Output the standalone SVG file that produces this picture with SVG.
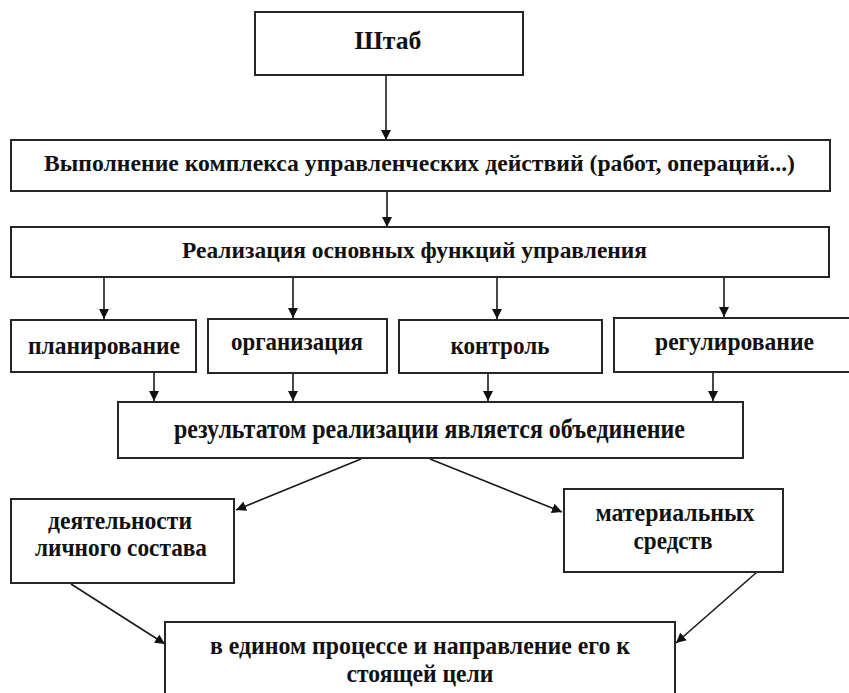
<svg xmlns="http://www.w3.org/2000/svg" width="849" height="693" viewBox="0 0 849 693">
<style>
.box{fill:#fff;stroke:#262626;stroke-width:2}
.t{font-family:"Liberation Serif","Times New Roman","DejaVu Serif",serif;font-weight:bold;fill:#111;text-anchor:middle}
.c{stroke:#1a1a1a;stroke-width:1.6;fill:none;marker-end:url(#ah)}
</style>
<defs>
<marker id="ah" viewBox="0 0 10 10" refX="10" refY="5" markerWidth="10" markerHeight="11" markerUnits="userSpaceOnUse" orient="auto">
<path d="M0,0 L10,5 L0,10 z" fill="#111"/>
</marker>
</defs>
<rect width="849" height="693" fill="#fff"/>
<g id="connectors">
<line class="c" x1="386" y1="75" x2="386" y2="140"/>
<line class="c" x1="387" y1="191" x2="387" y2="227"/>
<line class="c" x1="104" y1="277" x2="104" y2="319"/>
<line class="c" x1="293" y1="277" x2="293" y2="318"/>
<line class="c" x1="497" y1="277" x2="497" y2="319"/>
<line class="c" x1="724" y1="277" x2="724" y2="317"/>
<line class="c" x1="154" y1="372" x2="154" y2="401"/>
<line class="c" x1="293" y1="373" x2="293" y2="401"/>
<line class="c" x1="488" y1="373" x2="488" y2="401"/>
<line class="c" x1="713" y1="372" x2="713" y2="401"/>
<line class="c" x1="361" y1="459" x2="236" y2="510"/>
<line class="c" x1="430" y1="459" x2="562" y2="512"/>
<line class="c" x1="71" y1="584" x2="165" y2="644"/>
<line class="c" x1="757" y1="572" x2="676" y2="643"/>
</g>
<g id="shtab">
<rect class="box" x="255" y="12" width="268" height="63"/>
<text class="t" x="388" y="49" font-size="25" textLength="67" lengthAdjust="spacingAndGlyphs">Штаб</text>
</g>
<g id="vypolnenie">
<rect class="box" x="11" y="140" width="819" height="51"/>
<text class="t" x="419.5" y="171" font-size="23" textLength="751" lengthAdjust="spacingAndGlyphs">Выполнение комплекса управленческих действий (работ, операций...)</text>
</g>
<g id="realizatsiya">
<rect class="box" x="11" y="227" width="818" height="50"/>
<text class="t" x="414.5" y="258" font-size="24" textLength="465" lengthAdjust="spacingAndGlyphs">Реализация основных функций управления</text>
</g>
<g id="planirovanie">
<rect class="box" x="11" y="320" width="185" height="52"/>
<text class="t" x="104" y="354" font-size="25" textLength="152" lengthAdjust="spacingAndGlyphs">планирование</text>
</g>
<g id="organizatsiya">
<rect class="box" x="208" y="319" width="179" height="54"/>
<text class="t" x="297" y="350" font-size="25" textLength="132" lengthAdjust="spacingAndGlyphs">организация</text>
</g>
<g id="kontrol">
<rect class="box" x="399" y="320" width="203" height="53"/>
<text class="t" x="500" y="354" font-size="25" textLength="99" lengthAdjust="spacingAndGlyphs">контроль</text>
</g>
<g id="regulirovanie">
<rect class="box" x="614" y="318" width="240" height="54"/>
<text class="t" x="734.5" y="350" font-size="25" textLength="159" lengthAdjust="spacingAndGlyphs">регулирование</text>
</g>
<g id="rezultat">
<rect class="box" x="118" y="402" width="625" height="56"/>
<text class="t" x="429.5" y="438" font-size="27" textLength="511" lengthAdjust="spacingAndGlyphs">результатом реализации является объединение</text>
</g>
<g id="deyatelnost">
<rect class="box" x="11" y="499" width="223" height="84"/>
<text class="t" x="120" y="529" font-size="26" textLength="144" lengthAdjust="spacingAndGlyphs">деятельности</text>
<text class="t" x="121" y="556" font-size="26" textLength="172" lengthAdjust="spacingAndGlyphs">личного состава</text>
</g>
<g id="materialnye">
<rect class="box" x="564" y="489" width="219" height="83"/>
<text class="t" x="675" y="521" font-size="26" textLength="159" lengthAdjust="spacingAndGlyphs">материальных</text>
<text class="t" x="673" y="549" font-size="26" textLength="79" lengthAdjust="spacingAndGlyphs">средств</text>
</g>
<g id="final">
<rect class="box" x="165" y="622" width="510" height="80"/>
<text class="t" x="420" y="654" font-size="26" textLength="420" lengthAdjust="spacingAndGlyphs">в едином процессе и направление его к</text>
<text class="t" x="420" y="682" font-size="26" textLength="147" lengthAdjust="spacingAndGlyphs">стоящей цели</text>
</g>
</svg>
